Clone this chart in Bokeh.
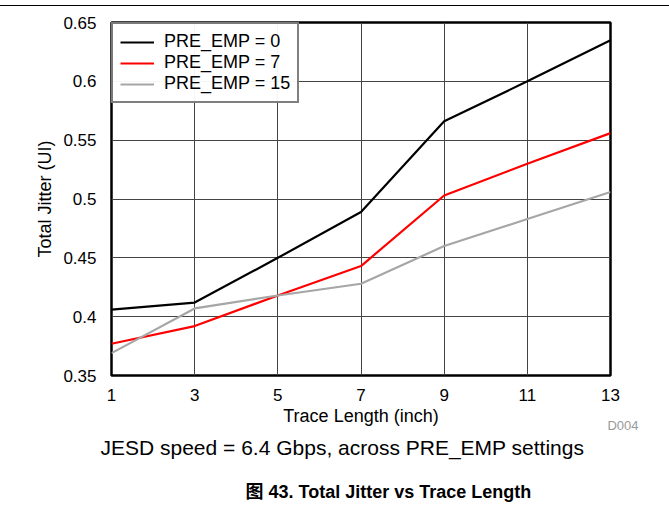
from bokeh.plotting import figure
from bokeh.models import Range1d, FixedTicker, Legend, LegendItem, Title, Div
from bokeh.layouts import column
from bokeh.embed import file_html
from bokeh.resources import INLINE

trace_length = [1, 3, 5, 7, 9, 11, 13]
pre_emp_0 = [0.406, 0.412, 0.450, 0.489, 0.566, 0.600, 0.635]
pre_emp_7 = [0.377, 0.392, 0.418, 0.443, 0.503, 0.530, 0.556]
pre_emp_15 = [0.369, 0.407, 0.418, 0.428, 0.460, 0.483, 0.506]
x_ticks = [1, 3, 5, 7, 9, 11, 13]
y_ticks = [0.35, 0.4, 0.45, 0.5, 0.55, 0.6, 0.65]

FONT = "'Liberation Sans', Arial, 'Noto Sans CJK SC'"

p = figure(width=669, height=502, output_backend="svg", toolbar_location=None,
           x_range=Range1d(1, 13), y_range=Range1d(0.35, 0.65),
           min_border_left=111, min_border_right=59, min_border_top=16, min_border_bottom=133)

p.outline_line_color = "black"
p.outline_line_width = 2.5
p.xaxis.ticker = FixedTicker(ticks=x_ticks)
p.yaxis.ticker = FixedTicker(ticks=y_ticks)
p.yaxis.major_label_overrides = {0.35: "0.35", 0.4: "0.4", 0.45: "0.45", 0.5: "0.5",
                                 0.55: "0.55", 0.6: "0.6", 0.65: "0.65"}
for ax in (p.xaxis, p.yaxis):
    ax.axis_line_color = None
    ax.major_tick_line_color = None
    ax.minor_tick_line_color = None
    ax.major_label_text_font = FONT
    ax.major_label_text_font_size = "17px"
    ax.major_label_text_color = "black"
    ax.axis_label_text_font = FONT
    ax.axis_label_text_font_size = "18px"
    ax.axis_label_text_font_style = "normal"
    ax.axis_label_text_color = "black"
p.xaxis.axis_label = "Trace Length (inch)"
p.yaxis.axis_label = "Total Jitter (UI)"
p.xaxis.major_label_standoff = 7
p.xaxis.axis_label_standoff = 2
p.yaxis.major_label_standoff = 9
p.yaxis.axis_label_standoff = 5
p.grid.grid_line_color = "#444444"
p.grid.grid_line_width = 1
p.grid.grid_line_alpha = 1.0

r0 = p.line(trace_length, pre_emp_0, line_color="black", line_width=2.2)
r7 = p.line(trace_length, pre_emp_7, line_color="#ff0000", line_width=2.2)
r15 = p.line(trace_length, pre_emp_15, line_color="#a6a6a6", line_width=2.2)

legend = Legend(items=[LegendItem(label="PRE_EMP = 0", renderers=[r0]),
                       LegendItem(label="PRE_EMP = 7", renderers=[r7]),
                       LegendItem(label="PRE_EMP = 15", renderers=[r15])],
                location="top_left")
legend.border_line_color = "black"
legend.border_line_width = 2
legend.label_text_font = FONT
legend.label_text_font_size = "18px"
legend.label_text_color = "black"
legend.glyph_width = 34
legend.label_standoff = 10
legend.spacing = 0
legend.label_height = 20
legend.glyph_height = 20
legend.padding = 7
legend.margin = 0
p.add_layout(legend)

p.add_layout(Title(text="D004", text_font=FONT, text_font_size="13px", text_color="#999999",
                   text_font_style="normal", align="right", offset=-28, standoff=-21,
                   vertical_align="top"), "below")
p.add_layout(Title(text="JESD speed = 6.4 Gbps, across PRE_EMP settings", text_font=FONT,
                   text_font_size="21px", text_font_style="normal", text_color="black",
                   align="left", offset=-11, standoff=15, vertical_align="top"), "below")
p.add_layout(Title(text=".", text_font=FONT, text_font_size="10px", text_color="white",
                   align="left", standoff=9, vertical_align="top"), "below")
p.add_layout(Title(text="图 43. Total Jitter vs Trace Length", text_font=FONT,
                   text_font_size="18px", text_font_style="bold", text_color="black",
                   align="left", offset=134, standoff=-12, vertical_align="top"), "below")

top_rule = Div(width=669, height=1, margin=(5, 0, 0, 0), styles={"background-color": "black"})

layout = column(top_rule, p, spacing=0)
open("out.html", "w").write(file_html(layout, INLINE))
